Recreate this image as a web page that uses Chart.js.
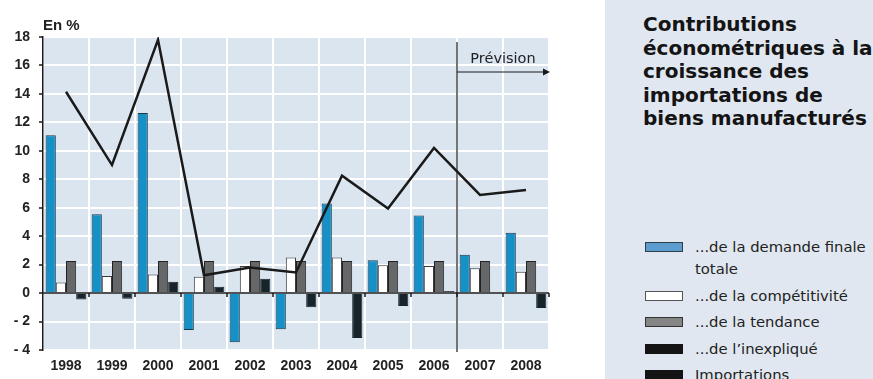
<!DOCTYPE html>
<html lang="fr">
<head>
<meta charset="utf-8">
<script src="https://cdn.jsdelivr.net/npm/chart.js@4"></script>
<style>
  body { margin: 0; width: 873px; height: 379px; overflow: hidden; background: #fff;
         font-family: "Liberation Sans", Arial, sans-serif; }
  #wrap { position: absolute; left: 0; top: 0; width: 605px; height: 379px; }
  #unit { position: absolute; left: 43px; top: 16px; font-weight: bold; font-size: 15px; color: #222; }
  #panel { position: absolute; left: 605px; top: 0; width: 268px; height: 379px; background: #e0e7f0; overflow: hidden; }
  #title { position: absolute; left: 38px; top: 13px; font-family: "DejaVu Sans", sans-serif; font-weight: bold;
           font-size: 20px; line-height: 23.5px; color: #141414; white-space: nowrap; }
  #legend { position: absolute; left: 40px; top: 236px; font-family: "DejaVu Sans", sans-serif;
            font-size: 14.8px; color: #222; }
  .item { position: relative; padding-left: 50px; line-height: 22px; margin-bottom: 4.5px; white-space: nowrap; }
  .sw { position: absolute; left: 0; top: 6px; width: 36px; height: 8px; border: 1px solid #333; }
</style>
</head>
<body>
<div id="wrap"><canvas id="importChart"></canvas></div>
<div id="unit">En %</div>
<div id="panel">
  <div id="title">Contributions<br>économétriques à la<br>croissance des<br>importations de<br>biens manufacturés</div>
  <div id="legend"></div>
</div>
<script>
const years = ["1998", "1999", "2000", "2001", "2002", "2003", "2004", "2005", "2006", "2007", "2008"];
const demande = [11.1, 5.55, 12.65, -2.6, -3.45, -2.55, 6.3, 2.3, 5.45, 2.7, 4.25];
const competitivite = [0.75, 1.2, 1.3, 1.15, 1.9, 2.5, 2.5, 1.95, 1.9, 1.75, 1.5];
const tendance = [2.25, 2.25, 2.25, 2.25, 2.25, 2.25, 2.25, 2.25, 2.25, 2.25, 2.25];
const inexplique = [-0.45, -0.4, 0.8, 0.45, 1.0, -1.0, -3.15, -0.9, 0.15, 0, -1.05];
const importations = [14.15, 9.0, 17.8, 1.25, 1.8, 1.45, 8.25, 5.95, 10.2, 6.9, 7.25];
const firstForecast = 9; // 2007
const yTicks = [-4, -2, 0, 2, 4, 6, 8, 10, 12, 14, 16, 18];

const legendItems = [
  { label: "...de la demande finale<br>totale", fill: "#5c9ccf", line: "#2c3e4c" },
  { label: "...de la compétitivité", fill: "#ffffff", line: "#555" },
  { label: "...de la tendance", fill: "#858585", line: "#333" },
  { label: "...de l’inexpliqué", fill: "#141414", line: "#141414" },
  { label: "Importations", fill: "#141414", line: "#141414" }
];
document.getElementById("legend").innerHTML = legendItems.map(it =>
  `<div class="item"><span class="sw" style="background:${it.fill};border-color:${it.line}"></span>${it.label}</div>`
).join("");

const dark = "#1a1a1a";
const tickFont = { family: "'Liberation Sans', Arial, sans-serif", size: 14, weight: "bold" };

// plot background, zero ticks and forecast marker
const decor = {
  id: "decor",
  beforeDraw(chart) {
    const { ctx, chartArea: a } = chart;
    ctx.save();
    ctx.fillStyle = "#dae5f0";
    ctx.fillRect(a.left, a.top, a.right - a.left, a.bottom - a.top);
    ctx.restore();
  },
  afterDatasetsDraw(chart) {
    const { ctx, chartArea: a, scales: { x, y } } = chart;
    const y0 = y.getPixelForValue(0);
    const step = x.getPixelForValue(1) - x.getPixelForValue(0);
    ctx.save();
    ctx.strokeStyle = dark;
    ctx.lineWidth = 1.5;
    ctx.beginPath();
    ctx.moveTo(a.left, y0);
    ctx.lineTo(a.right, y0);
    for (let i = 1; i <= years.length; i++) {
      const px = x.getPixelForValue(i - 1) + step / 2;
      ctx.moveTo(px, y0);
      ctx.lineTo(px, y0 + 4);
    }
    ctx.stroke();

    const fx = x.getPixelForValue(firstForecast) - step / 2;
    ctx.lineWidth = 1.2;
    ctx.beginPath();
    ctx.moveTo(fx, a.top + 5);
    ctx.lineTo(fx, a.bottom + 2);
    const ay = a.top + 35;
    ctx.moveTo(fx, ay);
    ctx.lineTo(a.right - 4, ay);
    ctx.stroke();
    ctx.fillStyle = dark;
    ctx.beginPath();
    ctx.moveTo(a.right + 1, ay);
    ctx.lineTo(a.right - 6, ay - 3.5);
    ctx.lineTo(a.right - 6, ay + 3.5);
    ctx.closePath();
    ctx.fill();
    ctx.fillStyle = "#222";
    ctx.font = "14.5px 'DejaVu Sans', sans-serif";
    ctx.textAlign = "center";
    ctx.textBaseline = "alphabetic";
    ctx.fillText("Prévision", (fx + a.right) / 2, a.top + 26);
    ctx.restore();
  }
};

const ctx = document.getElementById("importChart").getContext("2d");
const myChart = new Chart(ctx, {
  data: {
    labels: years,
    datasets: [
      {
        type: "line",
        label: "Importations",
        data: importations,
        borderColor: dark,
        borderWidth: 2.5,
        pointRadius: 0,
        tension: 0,
        order: 0,
      },
      {
        type: "bar",
        label: "...de la demande finale totale",
        data: demande,
        backgroundColor: "#1591c8",
        borderColor: "#1c3646",
        borderWidth: 1,
        order: 1,
      },
      {
        type: "bar",
        label: "...de la compétitivité",
        data: competitivite,
        backgroundColor: "#ffffff",
        borderColor: "#3a3a3a",
        borderWidth: 1,
        order: 1,
      },
      {
        type: "bar",
        label: "...de la tendance",
        data: tendance,
        backgroundColor: "#666768",
        borderColor: "#222",
        borderWidth: 1,
        order: 1,
      },
      {
        type: "bar",
        label: "...de l’inexpliqué",
        data: inexplique,
        backgroundColor: "#17242a",
        borderColor: "#17242a",
        borderWidth: 1,
        order: 1,
      },
    ],
  },
  options: {
    responsive: true,
    maintainAspectRatio: false,
    animation: false,
    layout: { padding: { top: 37, right: 56, left: 0, bottom: 0 } },
    datasets: { bar: { categoryPercentage: 0.885, barPercentage: 1.0 } },
    plugins: { legend: { display: false }, tooltip: { enabled: false } },
    scales: {
      x: {
        offset: true,
        grid: { offset: true, color: "#ffffff", lineWidth: 2, drawTicks: false },
        border: { display: false },
        ticks: { color: "#222", padding: 8, font: tickFont },
        afterFit(scale) { scale.height = 29; },
      },
      y: {
        min: -4,
        max: 18,
        afterBuildTicks(scale) { scale.ticks = yTicks.map(v => ({ value: v })); },
        grid: { color: "#ffffff", lineWidth: 2, tickColor: dark, tickLength: 4, tickWidth: 1.5 },
        border: { display: true, color: dark, width: 1.5 },
        ticks: {
          color: "#222",
          padding: 9,
          font: tickFont,
          callback: v => (v < 0 ? "- " + Math.abs(v) : String(v)),
        },
        afterFit(scale) { scale.width = 43; },
      },
    },
  },
  plugins: [decor],
});
</script>
</body>
</html>
